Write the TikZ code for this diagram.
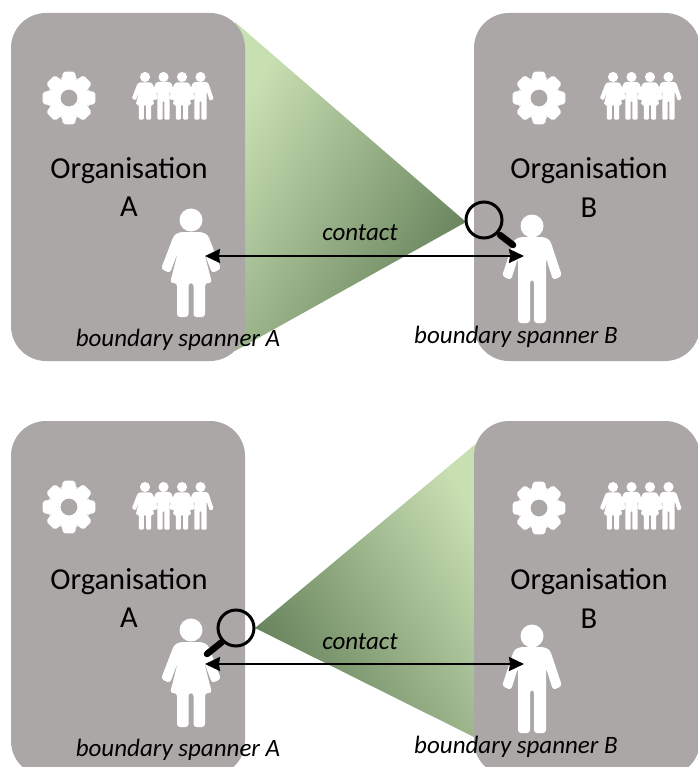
\documentclass[tikz,border=0pt]{standalone}
\usepackage{fontspec}
\usetikzlibrary{arrows.meta}
\setmainfont{Carlito}
\definecolor{cardgray}{HTML}{ABA7A6}
\definecolor{conelight}{HTML}{C8DFB2}
\definecolor{conedark}{HTML}{65805A}
\newcommand{\figround}{3}
\tikzset{
    card/.style={fill=cardgray, rounded corners=35},
    orgtext/.style={font=\fontsize{30.5}{30.5}\selectfont, inner sep=0pt},
    spantext/.style={font=\fontsize{25}{25}\selectfont\itshape, inner sep=0pt},
    contact/.style={black, line width=1.8, {Stealth[length=15,width=14,inset=1]}-{Stealth[length=15,width=14,inset=1]}},
    lens/.style={draw=black, line width=3, fill=none},
    handle/.style={black, line width=6.5, line cap=round},
    womanfig/.pic={
        \fill[white] (0,0) ellipse [x radius=11.5, y radius=11.5];
        \fill[white, rounded corners=\figround] (-2.5,97) -- (-14,97) -- (-14,63) -- (-21,63) -- (-13,32)
            -- (-21,53) -- (-30,49) -- (-17,15) -- (-11,12) -- (11,12) -- (17,15) -- (30,49)
            -- (21,53) -- (13,32) -- (21,63) -- (14,63) -- (14,97) -- (2.5,97) -- (2.5,63)
            -- (-2.5,63) -- cycle;
    },
    manfig/.pic={
        \fill[white] (0,0) ellipse [x radius=11.5, y radius=11.5];
        \fill[white, rounded corners=\figround] (-2,97) -- (-14,97) -- (-14,32) -- (-21,54)
            -- (-30,50) -- (-18,14) -- (-12,11) -- (12,11) -- (18,14) -- (30,50) -- (21,54)
            -- (14,32) -- (14,97) -- (2,97) -- (2,54) -- (-2,54) -- cycle;
    },
    gearfig/.pic={
        \fill[white, even odd rule, rounded corners=2] (0,0) circle [radius=8.5]
            (77:27) -- (103:27) -- (111:20) -- (114:20)
            \foreach \a in {135,180,...,405} {
                -- ({\a-13}:27) -- ({\a+13}:27) -- ({\a+21}:20) -- ({\a+24}:20)
            } -- cycle;
    },
    crowdfig/.pic={
        \renewcommand{\figround}{1.2}
        \pic[scale=.44] at (0,0) {womanfig};
        \pic[scale=.44] at (18.5,0) {manfig};
        \pic[scale=.44] at (37,0) {womanfig};
        \pic[scale=.44] at (55.5,0) {manfig};
    }
}
\begin{document}
\begin{tikzpicture}[x=1pt, y=-1pt]
    \useasboundingbox (0,0) rectangle (697,767);

    \shade[top color=conelight, bottom color=conedark, shading angle=60]
        (235,22) -- (466,222) -- (235,351) -- cycle;
    \shade[top color=conelight, bottom color=conedark, shading angle=300]
        (484,437) -- (255,628) -- (484,742) -- cycle;

    \fill[card] (11,13) rectangle (245,361);
    \fill[card] (474,13) rectangle (700,361);
    \fill[card] (11,421) rectangle (245,776);
    \fill[card] (474,421) rectangle (700,776);

    \pic at (69,98) {gearfig};
    \pic at (145,77) {crowdfig};
    \pic at (539,98) {gearfig};
    \pic at (613,77) {crowdfig};
    \pic at (69,507) {gearfig};
    \pic at (145,487) {crowdfig};
    \pic at (539,508) {gearfig};
    \pic at (613,487) {crowdfig};

    \node [orgtext] (orgA) at (129,171) {Organisation};
    \node [orgtext] (letA) at (129,207) {A};
    \node [orgtext] (orgB) at (589,171) {Organisation};
    \node [orgtext] (letB) at (589,208) {B};
    \node [orgtext] (orgC) at (129,582) {Organisation};
    \node [orgtext] (letC) at (129,618) {A};
    \node [orgtext] (orgD) at (589,582) {Organisation};
    \node [orgtext] (letD) at (589,619) {B};

    \pic at (191,220) {womanfig};
    \pic at (532,226) {manfig};
    \pic at (191,630) {womanfig};
    \pic at (532,636) {manfig};

    \node [spantext] (spanA) at (178,340) {boundary spanner A};
    \node [spantext] (spanB) at (516,337) {boundary spanner B};
    \node [spantext] (spanC) at (178,750) {boundary spanner A};
    \node [spantext] (spanD) at (516,747) {boundary spanner B};

    \draw[handle] (500,235)--(513,245);
    \draw[lens] (484,220) circle [radius=18];
    \draw[handle] (222,642)--(207,654);
    \draw[lens] (236,628) circle [radius=18];

    \coordinate (handA) at (205,256);
    \coordinate (handB) at (524,256);
    \coordinate (handC) at (205,664);
    \coordinate (handD) at (524,664);
    \draw[contact] (handA)--(handB);
    \draw[contact] (handC)--(handD);

    \node [spantext] (talkA) at (360,233) {contact};
    \node [spantext] (talkB) at (360,642) {contact};
\end{tikzpicture}
\end{document}
